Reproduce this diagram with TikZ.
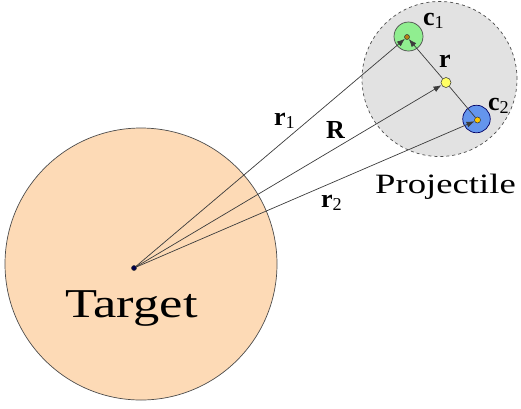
\documentclass[tikz,border=0pt]{standalone}
\usepackage{fontspec}
\setmainfont{Liberation Serif}
\usetikzlibrary{arrows.meta}

\definecolor{peach}{RGB}{253,218,182}
\definecolor{shellgray}{RGB}{226,226,226}
\definecolor{lightgreen}{RGB}{144,238,144}
\definecolor{cornblue}{RGB}{100,149,237}
\definecolor{dotyellow}{RGB}{255,255,100}
\definecolor{linegray}{RGB}{60,60,60}

\tikzset{
  body/.style={circle, inner sep=0pt, line width=0.7pt},
  smalldot/.style={circle, inner sep=0pt, draw=black!80, line width=0.5pt},
  vec/.style={draw=linegray, line width=0.7pt, -{Latex[length=8pt,width=6pt]}},
  link/.style={draw=linegray, line width=0.7pt},
  lbl/.style={anchor=base west, inner sep=0pt, font=\fontsize{26}{31}\selectfont},
  big/.style={anchor=base west, inner sep=0pt}
}

\begin{document}
\begin{tikzpicture}[x=1pt, y=-1pt]
\useasboundingbox (0,0) rectangle (521,408);

% target nucleus and projectile
\node[body, draw=black!70, fill=peach, minimum size=272] (target) at (141,264) {};
\node[body, draw=black!70, dashed, fill=shellgray, minimum size=155] (proj) at (439.5,79) {};

% projectile constituents
\node[body, draw=black!70, fill=lightgreen, minimum size=29] (c1) at (408.5,36.5) {};
\node[body, draw=blue!40!black, fill=cornblue, minimum size=27.5] (c2) at (476.5,119) {};

% centres and reference points
\node[smalldot, fill=blue!30!black, minimum size=5] (o) at (134,268) {};
\node[smalldot, fill={rgb,255:red,180;green,130;blue,20}, minimum size=5] (c1dot) at (407,37) {};
\node[smalldot, fill={rgb,255:red,255;green,200;blue,0}, minimum size=6] (c2dot) at (477.5,120) {};
\node[smalldot, fill=dotyellow, minimum size=10] (rdot) at (446,82.5) {};

% position vectors
\draw[vec] (o) -- (c1dot);
\draw[vec] (o) -- (rdot);
\draw[vec] (o) -- (c2dot);
\draw[vec] (rdot) -- (c1dot);
\draw[link] (rdot) -- (c2dot);

% labels
\node[lbl] (lc1) at (423,25) {\textbf{c}\textsubscript{1}};
\node[lbl] (lr) at (439,67) {\textbf{r}};
\node[lbl] (lc2) at (488,110) {\textbf{c}\textsubscript{2}};
\node[lbl] (lr1) at (274,125) {\textbf{r}\textsubscript{1}};
\node[lbl] (lR) at (326,138) {\textbf{R}};
\node[lbl] (lr2) at (321,207) {\textbf{r}\textsubscript{2}};
\node[big, font=\fontsize{28}{33}\selectfont] (lproj) at (375,193) {\scalebox{1.31}[1]{Projectile}};
\node[big, font=\fontsize{41}{48}\selectfont] (ltarget) at (65,317) {\scalebox{1.28}[1]{Target}};
\end{tikzpicture}
\end{document}
